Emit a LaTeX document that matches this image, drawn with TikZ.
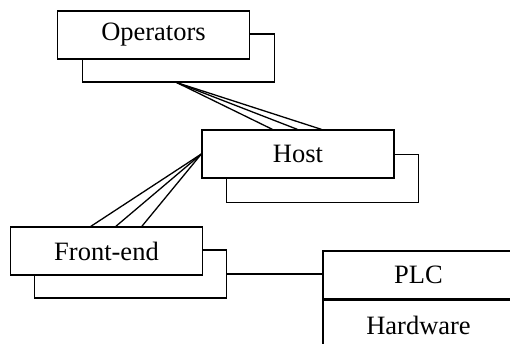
\documentclass[tikz,border=0pt]{standalone}
\usepackage{fontspec}
\setmainfont{Liberation Serif}
\usetikzlibrary{calc}
\begin{document}
\begin{tikzpicture}[x=1pt,y=-1pt,
  every node/.style={font=\fontsize{26.5}{30}\selectfont},
  box/.style={draw,fill=white,line width=1.3pt,inner sep=0pt,
    minimum width=192pt,minimum height=48pt},
  wire/.style={line width=1.3pt}]
\useasboundingbox (0,0) rectangle (510,344);
\clip (0,0) rectangle (510,344);

% stacked boxes: back copy first, front copy on top
\node[box] (opb) at (178.5,58) {};
\node[box] (op)  at (153.5,35) {Operators};

\node[box] (hostb) at (322.5,178.5) {};
\node[box] (host)  at (298,154) {Host};

\node[box] (feb) at (130.5,274) {};
\node[box] (fe)  at (106.5,251) {Front-end};

% PLC / Hardware split box running off the right edge
\node[box,minimum width=191pt] (plc) at (418.5,275) {PLC};
\node[box,minimum width=191pt,minimum height=51pt,anchor=north] (hw)
  at (plc.south) {Hardware};

% fan-out links
\coordinate (opfan) at ($(opb.south west)+(95,0)$);
\draw[wire] (opfan) -- ($(host.north west)+(71,0)$);
\draw[wire] (opfan) -- ($(host.north west)+(96,0)$);
\draw[wire] (opfan) -- ($(host.north west)+(120,0)$);

\draw[wire] (host.west) -- ($(fe.north west)+(81,0)$);
\draw[wire] (host.west) -- ($(fe.north west)+(106,0)$);
\draw[wire] (host.west) -- ($(fe.north west)+(132,0)$);

\draw[wire] (feb.east) -- (feb.east -| plc.west);
\end{tikzpicture}
\end{document}
